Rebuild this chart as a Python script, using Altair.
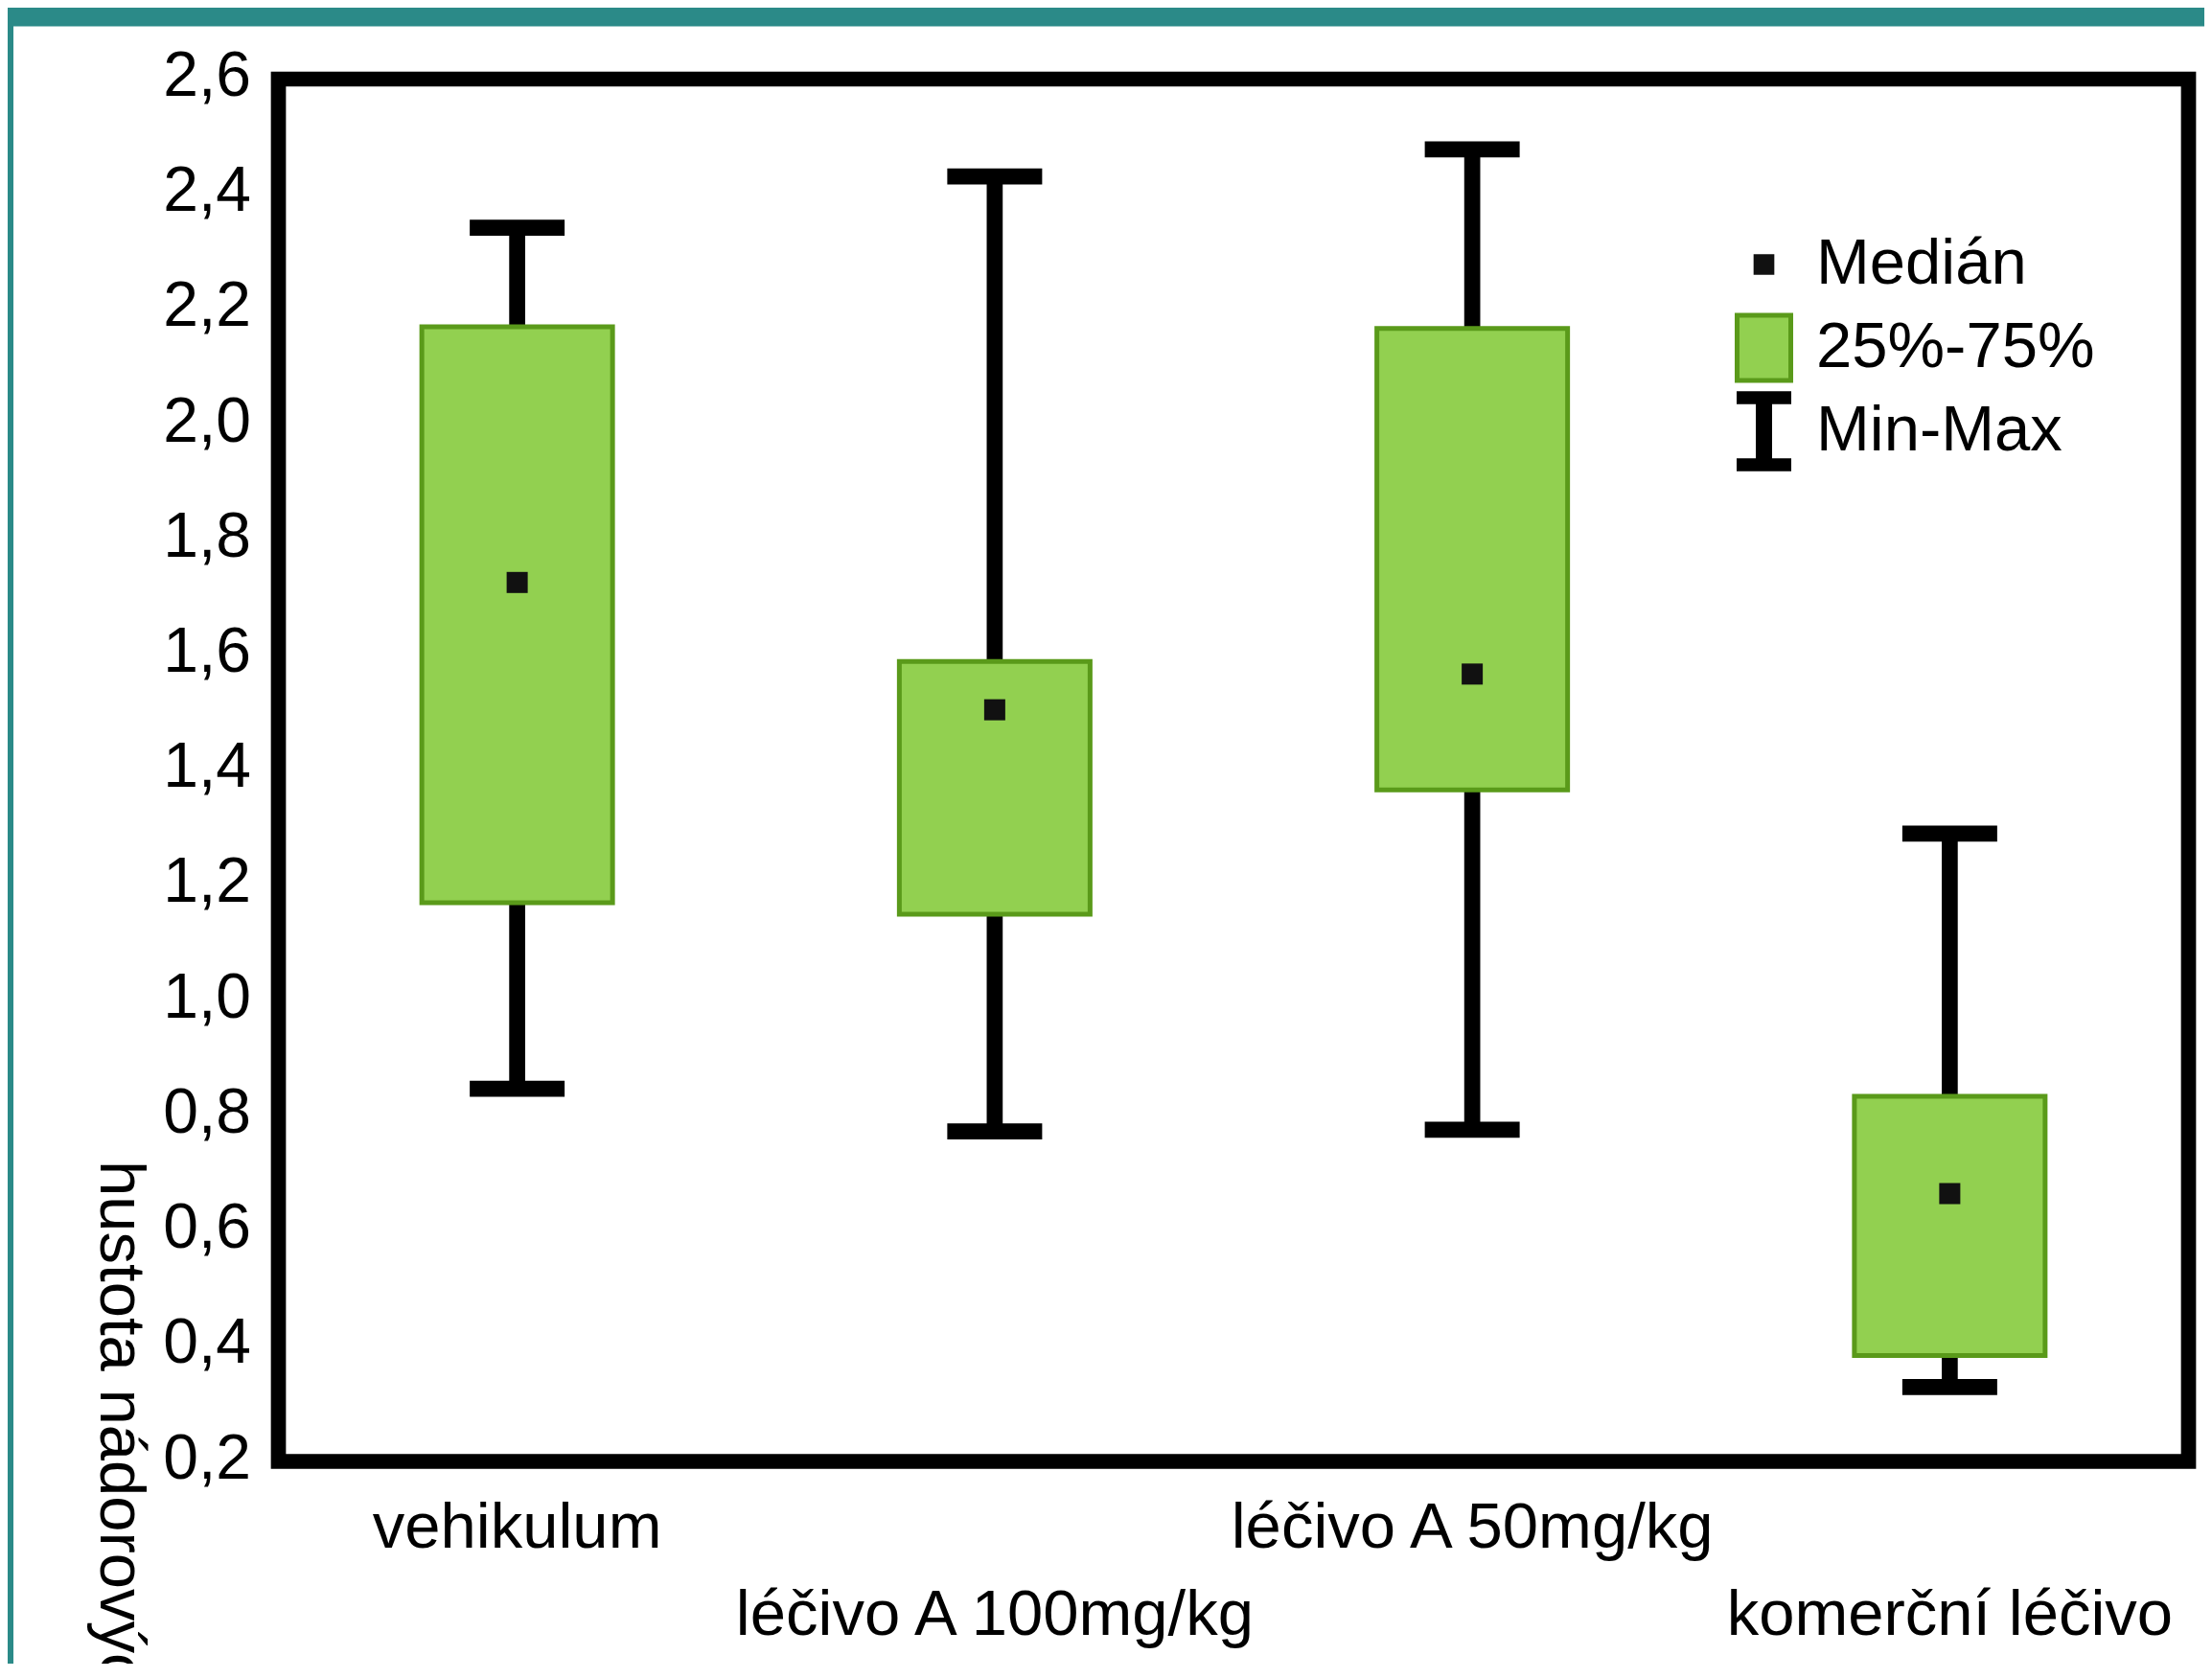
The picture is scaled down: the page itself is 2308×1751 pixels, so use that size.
import altair as alt
import pandas as pd

# ---- data ----
cats = ["vehikulum", "léčivo A 100mg/kg", "léčivo A 50mg/kg", "komerční léčivo"]
mins = [0.847, 0.773, 0.776, 0.329]
q1s = [1.170, 1.150, 1.366, 0.384]
medians = [1.726, 1.505, 1.567, 0.665]
q3s = [2.170, 1.589, 2.167, 0.834]
maxs = [2.342, 2.431, 2.478, 1.290]

y_ticks = [0.2, 0.4, 0.6, 0.8, 1.0, 1.2, 1.4, 1.6, 1.8, 2.0, 2.2, 2.4, 2.6]
legend_items = ["Medián", "25%-75%", "Min-Max"]
y_title = "hustota nádorových cév"

# ---- styles ----
FONT = "Liberation Sans"
TEAL = "#2b8a88"
GREEN = "#92D050"
DKGREEN = "#5A9A1A"
W, H = 1993, 1442.5

df = pd.DataFrame({"cat": cats, "min": mins, "q1": q1s, "med": medians,
                   "q3": q3s, "max": maxs})

second_row = cats[1::2]
x_label_expr = ("indexof([" + ",".join("'" + c + "'" for c in second_row) +
                "], datum.label) >= 0 ? ['', datum.label] : datum.label")

xenc = alt.X("cat:N", sort=cats,
             scale=alt.Scale(domain=cats, paddingInner=0, paddingOuter=0),
             axis=alt.Axis(orient="bottom", title=None, labelAngle=0,
                           domain=False, ticks=False, tickSize=0,
                           labelPadding=89, labelBaseline="alphabetic",
                           labelLineHeight=91, labelFontSize=67,
                           labelFont=FONT, labelColor="black",
                           labelOverlap=False, labelLimit=0,
                           labelExpr=x_label_expr))

yscale = alt.Scale(domain=[0.2, 2.6], nice=False, zero=False)
yaxis = alt.Axis(values=y_ticks,
                 labelExpr="replace(format(datum.value, '.1f'), '.', ',')",
                 grid=False, domain=False, ticks=False, tickSize=0,
                 labelPadding=29, labelFontSize=66, labelFont=FONT,
                 labelColor="black", labelOffset=-3, labelLimit=0,
                 title=y_title, titleAngle=90, titleAlign="left",
                 titleBaseline="alphabetic", titleX=-186, titleY=1128,
                 titleFontSize=67, titleFontWeight="normal", titleFont=FONT,
                 titleColor="black")

base = alt.Chart(df)

whisker = base.mark_rule(color="black", strokeWidth=16.7, opacity=1).encode(
    x=xenc,
    y=alt.Y("min:Q", scale=yscale, axis=yaxis),
    y2="max:Q",
)

cap_min = base.mark_tick(color="black", size=99, thickness=16.7, opacity=1).encode(
    x=alt.X("cat:N", sort=cats), y=alt.Y("min:Q"))
cap_max = base.mark_tick(color="black", size=99, thickness=16.7, opacity=1).encode(
    x=alt.X("cat:N", sort=cats), y=alt.Y("max:Q"))

box = base.mark_bar(size=199, fill=GREEN, stroke=DKGREEN, strokeWidth=5,
                    opacity=1).encode(
    x=alt.X("cat:N", sort=cats), y=alt.Y("q1:Q"), y2="q3:Q")

median = base.mark_square(size=484, color="#111111", filled=True,
                          strokeWidth=0, opacity=1).encode(
    x=alt.X("cat:N", sort=cats), y=alt.Y("med:Q"))

# legend (native legend, custom symbol paths)
sq = "M-0.249,-0.249H0.249V0.249H-0.249Z"
bx = "M-0.644,-0.782H0.644V0.782H-0.644Z"
ib = ("M-0.655,-0.961H0.655V-0.651H0.195V0.651H0.655V0.961H-0.655V0.651"
      "H-0.195V-0.651H-0.655Z")
leg = alt.Legend(title=None, orient="none", legendX=1504, legendY=150)
leg_df = pd.DataFrame({"leg": legend_items})
legend_layer = alt.Chart(leg_df).transform_filter("false").mark_point(
    filled=True, opacity=1).encode(
    shape=alt.Shape("leg:N", sort=legend_items,
                    scale=alt.Scale(domain=legend_items, range=[sq, bx, ib]),
                    legend=leg),
    fill=alt.Fill("leg:N", sort=legend_items,
                  scale=alt.Scale(domain=legend_items,
                                  range=["#111111", GREEN, "#000000"]),
                  legend=leg),
    stroke=alt.Stroke("leg:N", sort=legend_items,
                      scale=alt.Scale(domain=legend_items,
                                      range=["transparent", DKGREEN, "transparent"]),
                      legend=leg),
)

# teal slide background strips (decoration)
strip_df = pd.DataFrame({"k": [0]})
top_strip = alt.Chart(strip_df).mark_rect(color=TEAL).encode(
    x=alt.value(-300), x2=alt.value(2100), y=alt.value(-100), y2=alt.value(-55))
left_strip = alt.Chart(strip_df).mark_rect(color=TEAL).encode(
    x=alt.value(-300), x2=alt.value(-276.5), y=alt.value(-100), y2=alt.value(1800))

chart = alt.layer(
    top_strip, left_strip, whisker, cap_min, cap_max, box, median, legend_layer
).properties(
    width=W, height=H,
    autosize=alt.AutoSizeParams(type="none"),
    padding={"left": 282.5, "top": 74.5, "right": 16.5, "bottom": 211},
    background="white",
).configure_view(
    stroke="black", strokeWidth=15.7, fill="white"
).configure_legend(
    symbolSize=7569, symbolStrokeWidth=5, labelFontSize=67, labelFont=FONT,
    labelColor="black", labelOffset=8.5, rowPadding=0, padding=0,
    clipHeight=87, labelLimit=0, symbolOpacity=1
)

chart.save("out.html", embed_options={"renderer": "svg", "actions": False})
